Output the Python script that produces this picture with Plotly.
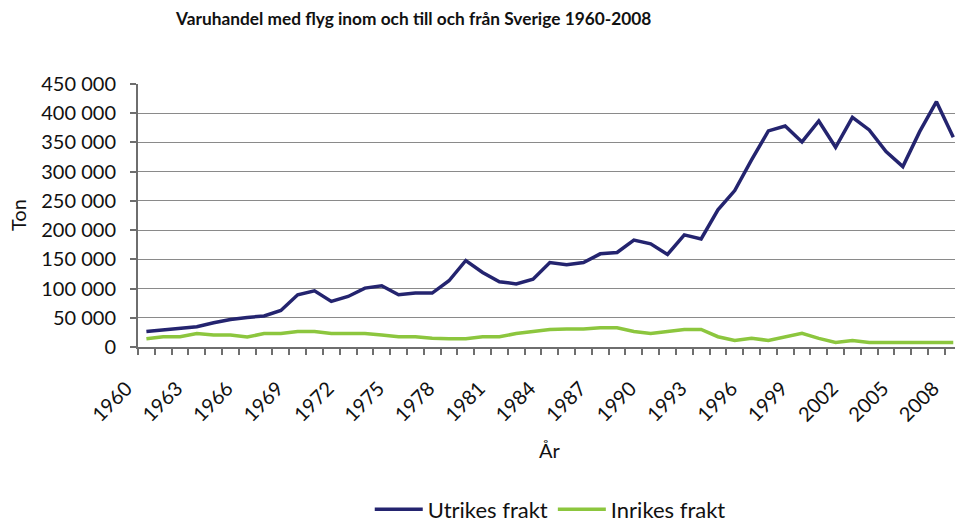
import plotly.graph_objects as go

years = list(range(1960, 2009))

utrikes = [26700, 29000, 31800, 34700, 41500, 47200, 50600, 53000, 62600, 89400,
           96200, 78000, 86500, 100800, 104800, 89400, 92300, 92300, 113300, 148000,
           127500, 111600, 108000, 116000, 144600, 140700, 144600, 159400, 161700, 182900,
           176500, 158300, 191900, 185000, 234600, 267600, 320000, 369700, 378200, 350900,
           386700, 341800, 393000, 371400, 334300, 308700, 368500, 419700, 358900]

inrikes = [14200, 17600, 17600, 23000, 20500, 20500, 17100, 23000, 23000, 26700,
           26700, 23000, 23000, 23000, 20500, 17600, 17600, 14800, 14200, 14200,
           17600, 17600, 23000, 26700, 30000, 30800, 30800, 33000, 33000, 26700,
           23300, 26700, 30000, 30000, 17600, 11300, 14800, 11300, 17600, 23300,
           14800, 7900, 11300, 7900, 7900, 7900, 7900, 7900, 7900]

label_years = [1960, 1963, 1966, 1969, 1972, 1975, 1978, 1981, 1984, 1987,
               1990, 1993, 1996, 1999, 2002, 2005, 2008]
y_ticks = [0, 50000, 100000, 150000, 200000, 250000, 300000, 350000, 400000, 450000]

title = "Varuhandel med flyg inom och till och från Sverige 1960-2008"
FONT = "Lato"
TXT = "#111111"
GRID = "#8a8a8a"
AXIS = "#6e6e6e"

fig = go.Figure()
fig.add_trace(go.Scatter(x=years, y=utrikes, mode="lines", name="Utrikes frakt",
                         line=dict(color="#24246f", width=3.5)))
fig.add_trace(go.Scatter(x=years, y=inrikes, mode="lines", name="Inrikes frakt",
                         line=dict(color="#8cc63e", width=3.5)))

L, R, T, B = 137.5, 0, 84, 522 - 347.3
W, H = 955, 522
pw = W - L - R
ph = H - T - B

def px_x(x):
    return (x - L) / pw

def px_y(y):
    return (347.3 - y) / ph

fig.update_layout(
    width=W, height=H,
    margin=dict(l=L, r=R, t=T, b=B, pad=0, autoexpand=False),
    paper_bgcolor="white", plot_bgcolor="white",
    font=dict(family=FONT, size=20, color=TXT),
    separators=", ",
    showlegend=True,
    legend=dict(orientation="h", x=px_x(550), xanchor="center",
                y=px_y(510), yanchor="middle",
                font=dict(family=FONT, size=22, color=TXT),
                traceorder="normal", itemwidth=48),
    xaxis=dict(
        automargin=False,
        range=[1959.5, 1959.5 + (W - L) / 16.82],
        tickmode="array", tickvals=label_years,
        ticktext=[str(v) for v in label_years],
        tickangle=-45, ticks="", showgrid=False,
        showline=True, linecolor=AXIS, linewidth=2,
        tickfont=dict(family=FONT, size=20, color=TXT),
        ticklabelshift=-20, ticklabelstandoff=20,
        minor=dict(ticks="outside", ticklen=6, tickcolor=AXIS, dtick=1,
                   tick0=1959.5, showgrid=False, tickwidth=1.5),
        zeroline=False,
    ),
    yaxis=dict(
        automargin=False,
        range=[0, 450000],
        tickmode="array", tickvals=y_ticks,
        tickformat=",d",
        ticks="outside", ticklen=6, tickcolor=AXIS, tickwidth=1.5,
        showgrid=True, gridcolor=GRID, gridwidth=1,
        showline=True, linecolor=AXIS, linewidth=2,
        zeroline=False,
        ticklabelstandoff=10,
        tickfont=dict(family=FONT, size=20, color=TXT),
    ),
    annotations=[
        dict(text="<b>" + title + "</b>", xref="paper", yref="paper",
             x=px_x(413), y=px_y(18.5), xanchor="center", yanchor="middle",
             showarrow=False, font=dict(family=FONT, size=17.3, color=TXT)),
        dict(text="År", xref="paper", yref="paper",
             x=px_x(550), y=px_y(450), xanchor="center", yanchor="middle",
             showarrow=False, font=dict(family=FONT, size=20, color=TXT)),
        dict(text="Ton", xref="paper", yref="paper", textangle=-90,
             x=px_x(18), y=px_y(215.6), xanchor="center", yanchor="middle",
             showarrow=False, font=dict(family=FONT, size=20, color=TXT)),
    ],
)

fig.write_html(
    "out.html",
    config={"displayModeBar": False},
    post_script="document.body.style.margin='0';document.body.style.padding='0';"
                "document.body.style.overflow='hidden';",
)
